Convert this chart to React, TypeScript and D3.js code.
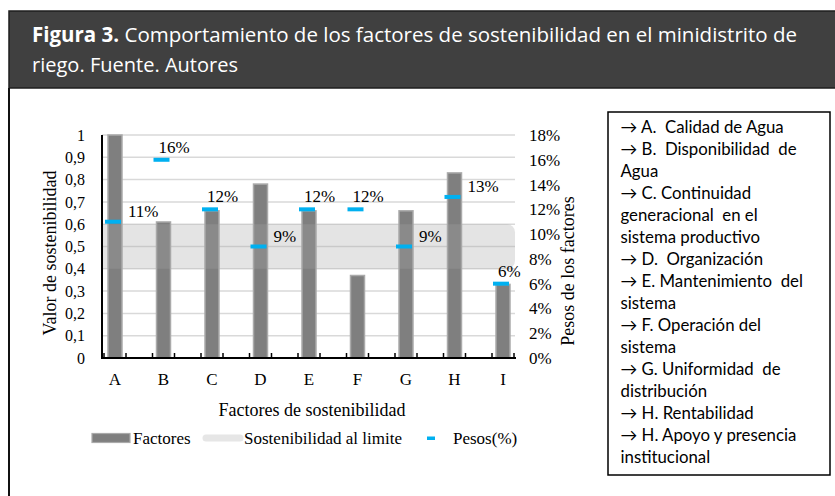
import React from "react";
import * as d3 from "d3";

const categories = ["A", "B", "C", "D", "E", "F", "G", "H", "I"];
const factores = [1.0, 0.61, 0.66, 0.78, 0.66, 0.37, 0.66, 0.83, 0.33];
const pesos = [11, 16, 12, 9, 12, 12, 9, 13, 6];
const labelPlacement = ["right", "above", "above", "right", "above", "above", "right", "right", "above"];
const bandRange = [0.4, 0.6];
const leftTicks = [0, 0.1, 0.2, 0.3, 0.4, 0.5, 0.6, 0.7, 0.8, 0.9, 1];
const rightTicks = [0, 2, 4, 6, 8, 10, 12, 14, 16, 18];
const legendItems = ["Factores", "Sostenibilidad al limite", "Pesos(%)"];
const infoLines = [
  "→ A.  Calidad de Agua",
  "→ B.  Disponibilidad  de",
  "Agua",
  "→ C. Continuidad",
  "generacional  en el",
  "sistema productivo",
  "→ D.  Organización",
  "→ E. Mantenimiento  del",
  "sistema",
  "→ F. Operación del",
  "sistema",
  "→ G. Uniformidad  de",
  "distribución",
  "→ H. Rentabilidad",
  "→ H. Apoyo y presencia",
  "institucional",
];
const titleBold = "Figura 3.";
const titleLine1 = " Comportamiento de los factores de sostenibilidad en el minidistrito de";
const titleLine2 = "riego. Fuente. Autores";

const SERIF = "'Liberation Serif', 'Times New Roman', serif";
const SANS = "'Open Sans', sans-serif";
const BOX = "Lato, 'DejaVu Sans', sans-serif";

export default function App() {
  const left = 102, right = 515, top = 135, bottom = 358;
  const x = d3.scalePoint<string>().domain(categories).range([115, 503]);
  const yL = d3.scaleLinear().domain([0, 1]).range([bottom, top]);
  const yR = d3.scaleLinear().domain([0, 18]).range([bottom, top]);
  const barW = 14;
  const tickXs: number[] = [];
  categories.forEach((c) => {
    [-11, 11].forEach((o) => {
      const v = (x(c) as number) + o;
      if (v > left + 1 && v <= right) tickXs.push(v);
    });
  });
  const bTop = yL(bandRange[1]);
  const bBot = yL(bandRange[0]);
  const r = 8;
  const bandPath = `M${left},${bTop} H${right - r} A${r},${r} 0 0 1 ${right},${bTop + r} V${bBot - r} A${r},${r} 0 0 1 ${right - r},${bBot} H${left} Z`;

  return (
    <svg width={835} height={496} style={{ position: "absolute", left: 0, top: 0, background: "#fff" }}>
      {/* header */}
      <rect x={9} y={11} width={830} height={77} fill="#404040" stroke="#1e1e1e" strokeWidth={1.5} />
      <text x={32} y={42} fill="#fff" fontFamily={SANS} fontSize={20.5} textLength={765} lengthAdjust="spacingAndGlyphs" style={{ whiteSpace: "pre" }}>
        <tspan fontWeight="bold">{titleBold}</tspan>
        <tspan>{titleLine1}</tspan>
      </text>
      <text x={32} y={72} fill="#fff" fontFamily={SANS} fontSize={20.5} textLength={206} lengthAdjust="spacingAndGlyphs">
        {titleLine2}
      </text>
      <line x1={9} x2={9} y1={88} y2={496} stroke="#111" strokeWidth={2} />

      {/* gridlines */}
      {leftTicks.slice(1).map((t) => (
        <line key={"g" + t} x1={left} x2={right} y1={yL(t)} y2={yL(t)} stroke="#d9d9d9" strokeWidth={1.5} />
      ))}

      {/* bars */}
      {categories.map((c, i) => (
        <rect
          key={"b" + c}
          x={(x(c) as number) - barW / 2}
          y={yL(factores[i])}
          width={barW}
          height={bottom - yL(factores[i])}
          fill="#7f7f7f"
          stroke="#aaaaaa"
          strokeWidth={1.5}
        />
      ))}

      {/* band */}
      <path d={bandPath} fill="#a7a7a7" fillOpacity={0.3} />

      {/* axes */}
      <line x1={left} x2={left} y1={top} y2={bottom + 1} stroke="#000" strokeWidth={2} />
      <line x1={left - 1} x2={right + 1} y1={bottom} y2={bottom} stroke="#000" strokeWidth={2} />
      {tickXs.map((t, i) => (
        <line key={"t" + i} x1={t} x2={t} y1={bottom} y2={bottom - 5} stroke="#000" strokeWidth={1.5} />
      ))}

      {/* left tick labels */}
      {leftTicks.map((t) => (
        <text key={"lt" + t} x={85} y={yL(t)} dy="0.35em" textAnchor="end" fontFamily={SERIF} fontSize={16} fill="#000">
          {String(t).replace(".", ",")}
        </text>
      ))}
      {/* right tick labels */}
      {rightTicks.map((t) => (
        <text key={"rt" + t} x={529} y={yR(t)} dy="0.35em" textAnchor="start" fontFamily={SERIF} fontSize={17} fill="#000">
          {t + "%"}
        </text>
      ))}
      {/* x labels */}
      {categories.map((c) => (
        <text key={"xl" + c} x={x(c)} y={385} textAnchor="middle" fontFamily={SERIF} fontSize={17} fill="#000">
          {c}
        </text>
      ))}

      {/* markers */}
      {categories.map((c, i) => (
        <rect key={"m" + c} x={(x(c) as number) - 2 - 8} y={yR(pesos[i]) - 2} width={16} height={4} fill="#00b0f0" />
      ))}
      {categories.map((c, i) => {
        const mx = (x(c) as number) - 2;
        const my = yR(pesos[i]);
        const right = labelPlacement[i] === "right";
        return (
          <text key={"dl" + c} x={right ? mx + 15 : mx - 3} y={right ? my - 5 : my - 7} fontFamily={SERIF} fontSize={17} fill="#000">
            {pesos[i] + "%"}
          </text>
        );
      })}

      {/* axis titles */}
      <text transform="translate(56,253) rotate(-90)" textAnchor="middle" fontFamily={SERIF} fontSize={18} fill="#000">
        Valor de sostenibilidad
      </text>
      <text transform="translate(574,271) rotate(-90)" textAnchor="middle" fontFamily={SERIF} fontSize={18} fill="#000">
        Pesos de los factores
      </text>
      <text x={312} y={416} textAnchor="middle" fontFamily={SERIF} fontSize={18} fill="#000">
        Factores de sostenibilidad
      </text>

      {/* legend */}
      <rect x={92} y={433.5} width={38} height={9} fill="#7f7f7f" stroke="#aaaaaa" strokeWidth={1.2} />
      <text x={133} y={444} fontFamily={SERIF} fontSize={17} fill="#000">{legendItems[0]}</text>
      <line x1={206} x2={240} y1={438} y2={438} stroke="#e6e6e6" strokeWidth={7} strokeLinecap="round" />
      <text x={244} y={444} fontFamily={SERIF} fontSize={17} fill="#000" textLength={158} lengthAdjust="spacing">{legendItems[1]}</text>
      <rect x={427} y={436.5} width={8} height={3.5} fill="#00b0f0" />
      <text x={453} y={444} fontFamily={SERIF} fontSize={17} fill="#000">{legendItems[2]}</text>

      {/* info box */}
      <rect x={608} y={112} width={222} height={363} fill="#fff" stroke="#000" strokeWidth={1.5} />
      {infoLines.map((l, i) => (
        <text key={"il" + i} x={620.5} y={133 + i * 22} fontFamily={BOX} fontSize={16.8} fill="#000" style={{ whiteSpace: "pre" }}>
          {l}
        </text>
      ))}
    </svg>
  );
}
